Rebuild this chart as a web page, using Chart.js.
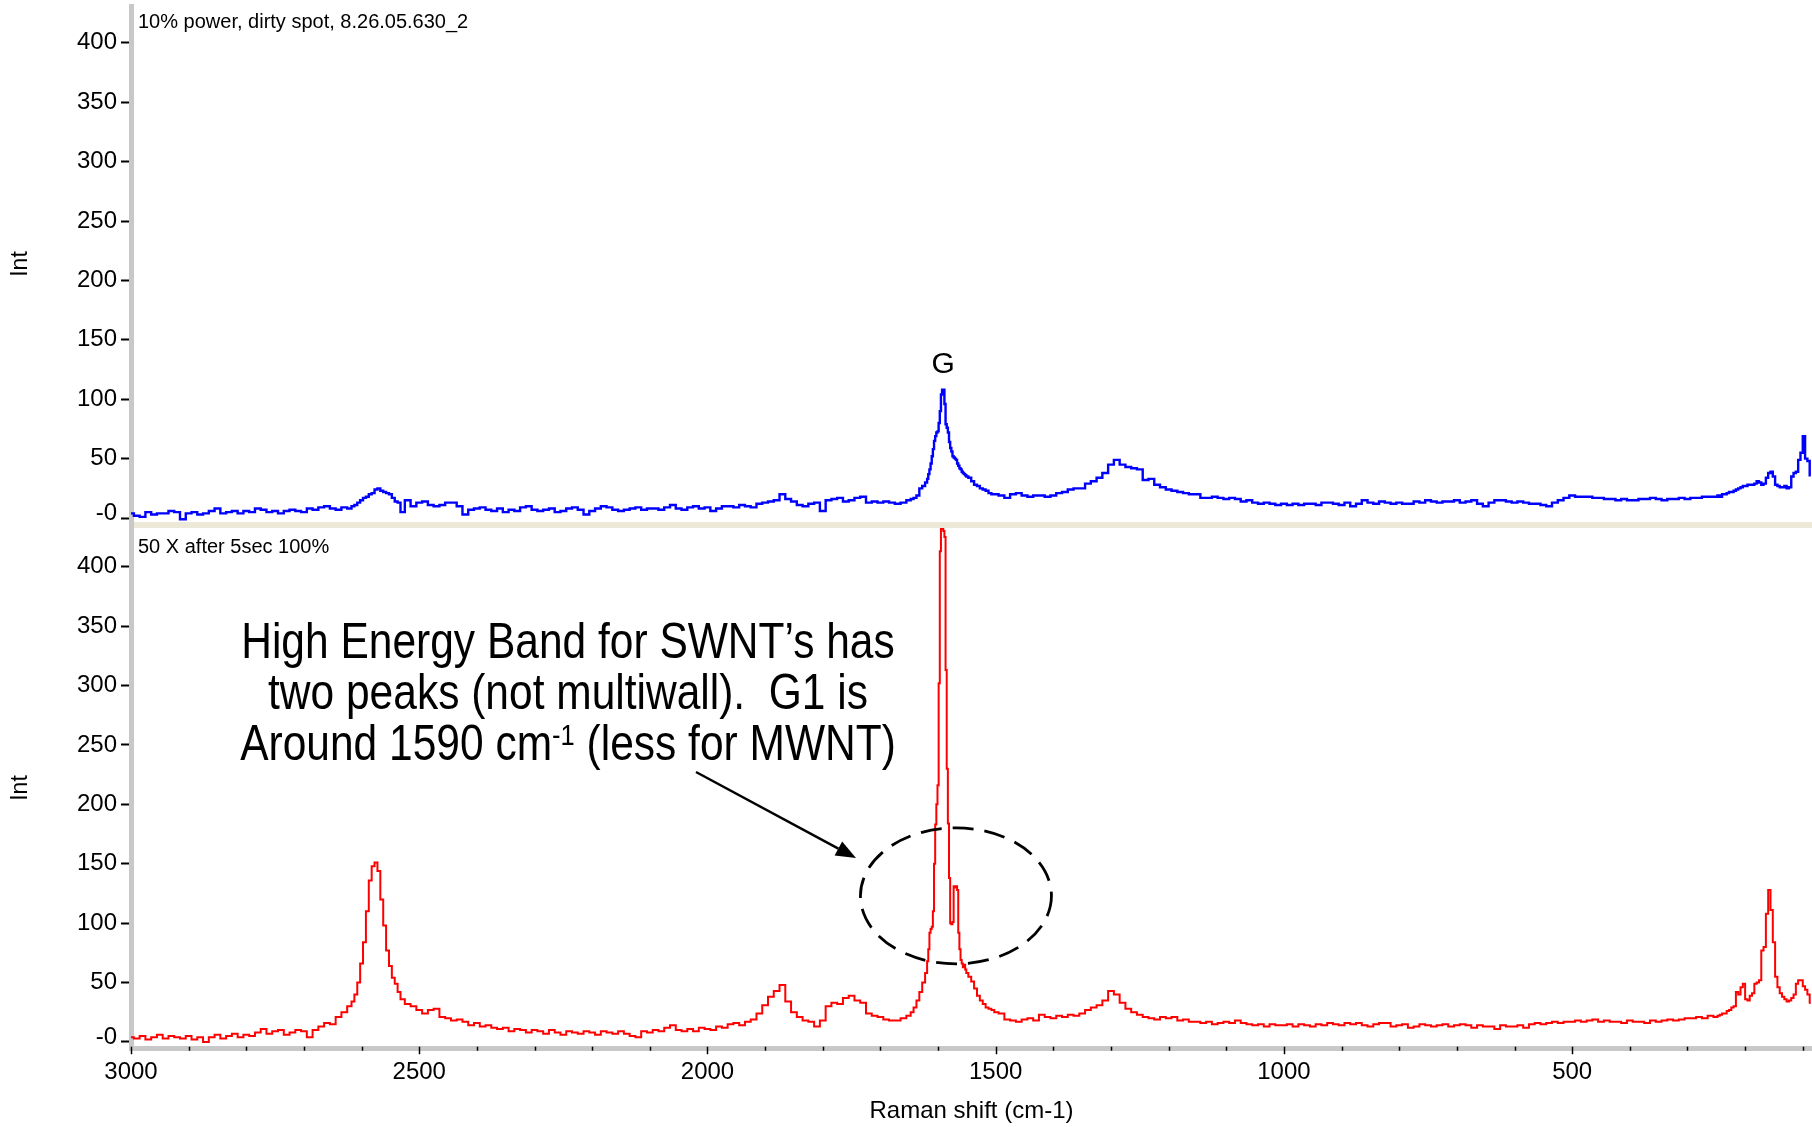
<!DOCTYPE html>
<html lang="en">
<head>
<meta charset="UTF-8">
<title>Raman spectra – SWNT</title>
<script src="https://cdn.jsdelivr.net/npm/chart.js"></script>
<style>
    body { margin: 0; background: #fff; }
    .panel { position: absolute; left: 0; width: 1812px; }
    #topWrap { top: 0; height: 522px; }
    #bottomWrap { top: 522px; height: 605px; }
</style>
</head>
<body>
<div class="panel" id="topWrap"><canvas id="topChart"></canvas></div>
<div class="panel" id="bottomWrap"><canvas id="bottomChart"></canvas></div>

<script>
// Raman shift (cm-1), shared by both spectra; denser around the peaks
const shift = [
    3000, 2990, 2980, 2970, 2960, 2950, 2940, 2930, 2920, 2910,
    2900, 2890, 2880, 2870, 2860, 2850, 2840, 2830, 2820, 2810,
    2800, 2790, 2780, 2770, 2760, 2750, 2740, 2730, 2720, 2710,
    2700, 2690, 2680, 2670, 2660, 2650, 2640, 2630, 2620,
    2615, 2610, 2605, 2600, 2595, 2590, 2585, 2580, 2575, 2570,
    2565, 2560, 2555, 2550, 2545, 2540, 2535, 2530,
    2520, 2510, 2500, 2490, 2480, 2470, 2460, 2450, 2440, 2430,
    2420, 2410, 2400, 2390, 2380, 2370, 2360, 2350, 2340, 2330,
    2320, 2310, 2300, 2290, 2280, 2270, 2260, 2250, 2240, 2230,
    2220, 2210, 2200, 2190, 2180, 2170, 2160, 2150, 2140, 2130,
    2120, 2110, 2100, 2090, 2080, 2070, 2060, 2050, 2040, 2030,
    2020, 2010, 2000, 1990, 1980, 1970, 1960, 1950, 1940, 1930,
    1920, 1910, 1900, 1890, 1880, 1870, 1860, 1850, 1840, 1830,
    1820, 1810, 1800, 1790, 1780, 1770, 1760, 1750, 1740, 1730,
    1720, 1710, 1700, 1690, 1680, 1670, 1660, 1650,
    1645, 1640, 1635, 1630, 1625,
    1620, 1618, 1616, 1614, 1612, 1610, 1608, 1606, 1604, 1602,
    1600, 1598, 1596, 1594, 1592, 1590, 1588, 1586, 1584, 1582,
    1580, 1578, 1576, 1574, 1572, 1570, 1568, 1566, 1564, 1562,
    1560, 1558, 1556, 1554, 1552, 1550,
    1545, 1540, 1535, 1530, 1525, 1520, 1515, 1510, 1505, 1500,
    1490, 1480, 1470, 1460, 1450, 1440, 1430, 1420, 1410, 1400,
    1390, 1380, 1370, 1360, 1350, 1340, 1330, 1320, 1310, 1300,
    1290, 1280, 1270, 1260, 1250, 1240, 1230, 1220, 1210, 1200,
    1190, 1180, 1170, 1160, 1150, 1140, 1130, 1120, 1110, 1100,
    1090, 1080, 1070, 1060, 1050, 1040, 1030, 1020, 1010, 1000,
    990, 980, 970, 960, 950, 940, 930, 920, 910, 900,
    890, 880, 870, 860, 850, 840, 830, 820, 810, 800,
    790, 780, 770, 760, 750, 740, 730, 720, 710, 700,
    690, 680, 670, 660, 650, 640, 630, 620, 610, 600,
    590, 580, 570, 560, 550, 540, 530, 520, 510, 500,
    490, 480, 470, 460, 450, 440, 430, 420, 410, 400,
    390, 380, 370, 360, 350, 340, 330, 320, 310, 300,
    290, 280, 270, 260, 250,
    246, 242, 238, 234, 230, 226, 222, 218, 214, 210,
    206, 202, 198, 194, 190, 186, 182, 178, 174, 170,
    166, 162, 158, 154, 150, 146, 142, 138, 134, 130,
    126, 122, 118, 114, 110, 106, 102, 98, 94, 90,
    86
];

// 10% power, dirty spot
const intDirty = [
    4, 2, 1, 5, 3, 4, 4, 6, 5, -1,
    4, 5, 3, 4, 6, 8, 4, 5, 6, 4,
    6, 5, 8, 7, 5, 6, 4, 6, 7, 6,
    5, 8, 7, 9, 10, 8, 7, 9, 8,
    10, 11, 13, 15, 17, 18, 20, 21, 24, 25,
    23, 22, 21, 20, 17, 14, 13, 5,
    15, 10, 13, 14, 11, 10, 11, 13, 13, 10,
    3, 7, 8, 9, 7, 6, 8, 5, 7, 6,
    9, 10, 7, 6, 7, 8, 5, 6, 8, 9,
    7, 3, 6, 8, 10, 9, 7, 6, 7, 8,
    9, 7, 8, 8, 7, 9, 11, 8, 7, 9,
    10, 8, 9, 6, 8, 10, 10, 9, 11, 10,
    9, 12, 13, 14, 15, 20, 16, 14, 11, 10,
    12, 13, 6, 15, 16, 17, 14, 15, 17, 18,
    13, 14, 13, 14, 13, 12, 13, 15,
    16, 17, 19, 25, 27,
    30, 33, 37, 41, 46, 52, 58, 65, 69, 72,
    73, 80, 90, 104, 108, 108, 96, 79, 76, 72,
    64, 59, 56, 52, 51, 50, 49, 46, 44, 42,
    41, 39, 38, 37, 36, 35,
    34, 31, 28, 27, 25, 24, 23, 21, 20, 20,
    19, 17, 20, 21, 19, 18, 19, 19, 18, 19,
    21, 22, 24, 25, 25, 29, 31, 34, 38, 45,
    49, 45, 43, 42, 41, 32, 33, 28, 26, 24,
    23, 22, 21, 20, 20, 17, 17, 18, 17, 16,
    17, 16, 14, 15, 13, 12, 13, 12, 11, 12,
    11, 12, 11, 12, 12, 11, 13, 13, 12, 11,
    13, 10, 12, 15, 13, 12, 14, 13, 12, 13,
    12, 12, 14, 13, 15, 14, 13, 14, 14, 15,
    13, 14, 15, 12, 10, 13, 15, 15, 14, 13,
    14, 13, 12, 12, 11, 10, 13, 15, 17, 19,
    18, 18, 18, 17, 17, 16, 16, 15, 16, 15,
    15, 16, 16, 17, 16, 15, 16, 16, 17, 16,
    17, 17, 18, 18, 18,
    19, 18, 20, 20, 21, 22, 22, 23, 24, 25,
    26, 27, 27, 28, 28, 28, 29, 31, 30, 28,
    29, 34, 38, 39, 35, 28, 27, 26, 26, 27,
    25, 26, 35, 38, 39, 49, 55, 69, 50, 48,
    36
];

// 50 X after 5sec 100%
const intClean = [
    4, 3, 5, 2, 4, 6, 3, 5, 4, 3,
    5, 2, 4, 0, 4, 6, 3, 5, 7, 4,
    6, 5, 8, 11, 7, 9, 10, 6, 8, 10,
    9, 4, 10, 13, 16, 15, 21, 25, 30,
    34, 40, 50, 66, 84, 110, 136, 148, 151, 144,
    120, 98, 77, 64, 54, 49, 42, 36,
    32, 30, 27, 24, 27, 28, 21, 20, 18, 19,
    17, 14, 16, 13, 14, 12, 11, 12, 9, 11,
    10, 8, 10, 9, 7, 10, 8, 6, 9, 8,
    7, 9, 8, 6, 9, 8, 7, 9, 7, 5,
    4, 9, 8, 10, 9, 12, 14, 10, 9, 11,
    9, 12, 11, 10, 13, 12, 15, 16, 14, 17,
    19, 24, 31, 38, 43, 48, 34, 25, 21, 18,
    17, 13, 18, 30, 33, 32, 37, 39, 35, 33,
    24, 22, 21, 19, 18, 18, 20, 22,
    25, 29, 35, 42, 50,
    58, 68, 78, 92, 95, 97, 110, 150, 183, 200,
    216, 302, 413, 432, 432, 430, 425, 313, 230, 184,
    138, 100, 99, 101, 131, 130, 131, 128, 92, 78,
    69, 66, 63, 65, 61, 58,
    55, 51, 45, 39, 35, 32, 29, 28, 27, 25,
    24, 19, 18, 17, 19, 20, 18, 23, 21, 20,
    22, 21, 23, 22, 24, 27, 29, 31, 35, 43,
    40, 33, 28, 25, 23, 21, 20, 19, 21, 20,
    21, 18, 19, 17, 17, 16, 17, 15, 16, 17,
    16, 18, 16, 15, 14, 15, 13, 15, 14, 14,
    15, 13, 15, 14, 13, 15, 14, 16, 15, 14,
    16, 15, 16, 14, 13, 15, 16, 16, 13, 14,
    15, 12, 13, 15, 14, 13, 14, 15, 13, 14,
    15, 14, 12, 14, 13, 13, 11, 14, 13, 13,
    14, 12, 15, 16, 15, 16, 17, 16, 17, 17,
    18, 17, 18, 19, 17, 18, 17, 17, 16, 18,
    17, 17, 16, 18, 17, 18, 19, 18, 19, 20,
    20, 21, 20, 22, 21,
    22, 23, 24, 24, 26, 27, 29, 30, 42, 40,
    46, 49, 36, 35, 39, 41, 49, 50, 52, 77,
    80, 108, 128, 111, 84, 55, 46, 41, 38, 36,
    34, 35, 37, 40, 49, 52, 52, 47, 44, 40,
    33
];

const xTicksMajor = [3000, 2500, 2000, 1500, 1000, 500];

const FONT = '"Liberation Sans", Arial, sans-serif';
Chart.defaults.font.family = FONT;
Chart.defaults.color = '#000';
Chart.defaults.animation = false;

const AXIS_GREY = '#c8c8c8';

function pts(values) {
    return shift.map((x, i) => ({ x: x, y: values[i] }));
}

function intAxis(min, max) {
    return {
        type: 'linear',
        min: min,
        max: max,
        // fixed gutter, and no extra room for half a label at the ends
        afterFit: s => { s.width = 131; s.paddingTop = 0; s.paddingBottom = 0; },
        border: { display: true, color: AXIS_GREY, width: 5 },
        grid: { drawOnChartArea: false, tickLength: 10, tickColor: '#000', tickWidth: 2 },
        ticks: {
            stepSize: 50,
            includeBounds: false,
            padding: 4,
            font: { size: 24 },
            color: '#000',
            // the zero label is drawn by panelNotes, a little above its tick
            callback: v => (v === 0 ? '' : String(v))
        },
        title: { display: true, text: 'Int', font: { size: 23 }, color: '#000', padding: { top: 7 } }
    };
}

// sample name in the upper left corner, the "-0" label, plus an optional peak label
const panelNotes = {
    id: 'panelNotes',
    afterDraw(chart, args, opts) {
        const ctx = chart.ctx;
        const a = chart.chartArea;
        const ys = chart.scales.y;
        ctx.save();
        ctx.fillStyle = '#000';
        ctx.textBaseline = 'alphabetic';
        ctx.textAlign = 'left';
        ctx.font = '20px ' + FONT;
        ctx.fillText(opts.title, a.left + 7, a.top + opts.titleOffset);

        ctx.textAlign = 'right';
        ctx.textBaseline = 'middle';
        ctx.font = '24px ' + FONT;
        ctx.fillText('-0', ys.right - 14, ys.getPixelForValue(0) - 5);

        if (opts.peak) {
            const px = chart.scales.x.getPixelForValue(opts.peak.x);
            const py = ys.getPixelForValue(opts.peak.y);
            ctx.textAlign = 'center';
            ctx.textBaseline = 'alphabetic';
            ctx.font = '30px ' + FONT;
            ctx.fillText(opts.peak.text, px, py - 17);
        }
        ctx.restore();
    }
};

// minor/major tick marks over the grey x-axis band
const xTickMarks = {
    id: 'xTickMarks',
    afterDraw(chart) {
        const s = chart.scales.x;
        const ctx = chart.ctx;
        const top = chart.chartArea.bottom - 1.3;
        ctx.save();
        ctx.strokeStyle = '#000';
        ctx.lineWidth = 1.5;
        s.ticks.forEach(t => {
            const px = Math.round(s.getPixelForValue(t.value)) + 0.5;
            const len = xTicksMajor.includes(t.value) ? 7.5 : 4;
            ctx.beginPath();
            ctx.moveTo(px, top);
            ctx.lineTo(px, top + len);
            ctx.stroke();
        });
        ctx.restore();
    }
};

// beige strip between the two panels, callout text, arrow and dashed ellipse
const bandNote = {
    id: 'bandNote',
    beforeDraw(chart) {
        const ctx = chart.ctx;
        const a = chart.chartArea;
        ctx.save();
        ctx.fillStyle = '#ece9d8';
        ctx.fillRect(a.left + 2.5, a.top - 6, a.right - a.left, 6);
        ctx.fillStyle = AXIS_GREY;
        ctx.fillRect(a.left - 2, a.top - 6, 5, 7);
        ctx.restore();
    },
    afterDraw(chart, args, opts) {
        const ctx = chart.ctx;
        const xs = chart.scales.x;
        const ys = chart.scales.y;
        ctx.save();
        ctx.fillStyle = '#000';
        ctx.strokeStyle = '#000';

        // callout text, slightly condensed
        const cx = 568, sx = 0.85;
        const lines = [
            [{ t: 'High Energy Band for SWNT\u2019s has', size: 50 }],
            [{ t: 'two peaks (not multiwall).  G1 is', size: 50 }],
            [{ t: 'Around 1590 cm', size: 50 }, { t: '-1', size: 30, dy: -15 }, { t: ' (less for MWNT)', size: 50 }]
        ];
        const baselines = [136, 187, 238];
        ctx.textAlign = 'left';
        ctx.textBaseline = 'alphabetic';
        lines.forEach((parts, i) => {
            let total = 0;
            parts.forEach(p => {
                ctx.font = p.size + 'px ' + FONT;
                p.w = ctx.measureText(p.t).width;
                total += p.w;
            });
            ctx.save();
            ctx.translate(cx, baselines[i]);
            ctx.scale(sx, 1);
            let x = -total / 2;
            parts.forEach(p => {
                ctx.font = p.size + 'px ' + FONT;
                ctx.fillText(p.t, x, p.dy || 0);
                x += p.w;
            });
            ctx.restore();
        });

        // arrow towards the split G band
        const x0 = 696, y0 = 250, x1 = 856, y1 = 336;
        const ang = Math.atan2(y1 - y0, x1 - x0);
        const head = 20, half = 8;
        const bx = x1 - head * Math.cos(ang), by = y1 - head * Math.sin(ang);
        ctx.lineWidth = 2.5;
        ctx.beginPath();
        ctx.moveTo(x0, y0);
        ctx.lineTo(bx, by);
        ctx.stroke();
        ctx.beginPath();
        ctx.moveTo(x1, y1);
        ctx.lineTo(bx + half * Math.sin(ang), by - half * Math.cos(ang));
        ctx.lineTo(bx - half * Math.sin(ang), by + half * Math.cos(ang));
        ctx.closePath();
        ctx.fill();

        // dashed ellipse around G1 / G2
        const ex = xs.getPixelForValue(opts.ellipse.x);
        const ey = ys.getPixelForValue(opts.ellipse.y);
        ctx.lineWidth = 2.8;
        ctx.setLineDash([21, 11]);
        ctx.beginPath();
        ctx.ellipse(ex, ey, 95.5, 68, 0, 0, Math.PI * 2);
        ctx.stroke();
        ctx.restore();
    }
};

const baseOpts = {
    responsive: true,
    maintainAspectRatio: false,
    events: [],
    elements: { point: { radius: 0 }, line: { tension: 0, stepped: 'middle' } }
};

new Chart(document.getElementById('topChart'), {
    type: 'line',
    data: {
        datasets: [{
            data: pts(intDirty),
            borderColor: '#0000ff',
            borderWidth: 2.4,
            fill: false
        }]
    },
    options: Object.assign({}, baseOpts, {
        layout: { padding: { top: 6, left: 0, right: 0, bottom: 0 } },
        scales: {
            x: { type: 'linear', reverse: true, min: 84, max: 3000, display: false },
            y: intAxis(-3.3, 431)
        },
        plugins: {
            legend: { display: false },
            tooltip: { enabled: false },
            panelNotes: {
                title: '10% power, dirty spot, 8.26.05.630_2',
                titleOffset: 22,
                peak: { text: 'G', x: 1591, y: 108 }
            }
        }
    }),
    plugins: [panelNotes]
});

new Chart(document.getElementById('bottomChart'), {
    type: 'line',
    data: {
        datasets: [{
            data: pts(intClean),
            borderColor: '#ff0000',
            borderWidth: 2,
            fill: false
        }]
    },
    options: Object.assign({}, baseOpts, {
        layout: { padding: { top: 6, left: 0, right: 0, bottom: 0 } },
        scales: {
            x: {
                type: 'linear',
                reverse: true,
                min: 84,
                max: 3000,
                afterFit: s => { s.height = 79; s.paddingLeft = 0; s.paddingRight = 0; },
                border: { display: true, color: AXIS_GREY, width: 5 },
                grid: { drawOnChartArea: false, tickLength: 9, tickColor: 'rgba(0,0,0,0)' },
                ticks: {
                    stepSize: 100,
                    includeBounds: false,
                    autoSkip: false,
                    maxRotation: 0,
                    padding: 1,
                    font: { size: 24 },
                    color: '#000',
                    callback: v => (xTicksMajor.includes(v) ? String(v) : '')
                },
                title: {
                    display: true,
                    text: 'Raman shift (cm-1)',
                    font: { size: 24 },
                    color: '#000',
                    padding: { top: 0, bottom: 1 }
                }
            },
            y: intAxis(-5.05, 432.6)
        },
        plugins: {
            legend: { display: false },
            tooltip: { enabled: false },
            panelNotes: { title: '50 X after 5sec 100%', titleOffset: 25 },
            bandNote: { ellipse: { x: 1569, y: 123 } }
        }
    }),
    plugins: [bandNote, panelNotes, xTickMarks]
});
</script>
</body>
</html>
